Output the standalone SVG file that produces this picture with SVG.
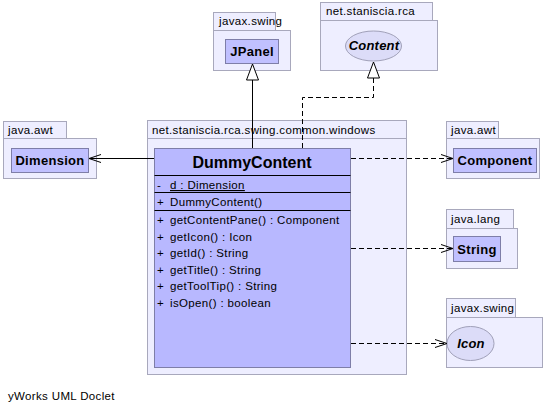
<svg xmlns="http://www.w3.org/2000/svg" width="547" height="413" viewBox="0 0 547 413">
<style>
.pkg{fill:#eeeeff;stroke:#a8a8bc;stroke-width:1}
.cls{fill:#c0c0ff;stroke:#7e7ea8;stroke-width:1}
.main{fill:#b8b8ff;stroke:#7e7ea8;stroke-width:1}
.ifc{fill:#dcdcf8;stroke:#a0a0b8;stroke-width:1}
.t{font-family:"Liberation Sans",Arial,sans-serif;font-size:11.5px;letter-spacing:0.35px;fill:#000}
.b{font-family:"Liberation Sans",Arial,sans-serif;font-size:13px;letter-spacing:0.3px;font-weight:bold;fill:#000}
.bi{font-family:"Liberation Sans",Arial,sans-serif;font-size:13px;letter-spacing:0.2px;font-weight:bold;font-style:italic;fill:#000}
.ln{stroke:#000;stroke-width:1;fill:none}
.dl{stroke:#000;stroke-width:1;fill:none;stroke-dasharray:5,3}
</style>
<defs>
<marker id="open" viewBox="0 0 12 10" refX="12" refY="5" markerWidth="12" markerHeight="10" markerUnits="userSpaceOnUse" orient="auto">
<path d="M0,1 L12,5 L0,9" fill="none" stroke="#000" stroke-width="1"/>
</marker>
<marker id="tri" viewBox="0 0 18 14" refX="17" refY="7" markerWidth="18" markerHeight="14" markerUnits="userSpaceOnUse" orient="auto">
<path d="M1,1 L17,7 L1,13 Z" fill="#fff" stroke="#000" stroke-width="1"/>
</marker>
</defs>

<g id="pkg-main">
<rect class="pkg" x="147.5" y="120.5" width="259" height="18"/>
<rect class="pkg" x="147.5" y="138.5" width="259" height="236"/>
<text class="t" x="152" y="134">net.staniscia.rca.swing.common.windows</text>
</g>

<g id="pkg-awt-left">
<rect class="pkg" x="3.5" y="121.5" width="63" height="17"/>
<rect class="pkg" x="3.5" y="138.5" width="93" height="40"/>
<text class="t" x="8" y="134">java.awt</text>
</g>
<g id="Dimension">
<rect class="cls" x="11.5" y="148.5" width="77" height="24"/>
<text class="b" x="50" y="165" text-anchor="middle">Dimension</text>
</g>

<g id="pkg-swing-top">
<rect class="pkg" x="213.5" y="12.5" width="62" height="18"/>
<rect class="pkg" x="213.5" y="30.5" width="77" height="40"/>
<text class="t" x="219" y="25">javax.swing</text>
</g>
<g id="JPanel">
<rect class="cls" x="225.5" y="39.5" width="53" height="24"/>
<text class="b" x="252" y="56" text-anchor="middle">JPanel</text>
</g>

<g id="pkg-rca">
<rect class="pkg" x="320.5" y="2.5" width="112" height="18"/>
<rect class="pkg" x="320.5" y="20.5" width="117" height="50"/>
<text class="t" x="326" y="15">net.staniscia.rca</text>
</g>
<g id="Content">
<ellipse class="ifc" cx="373.5" cy="46" rx="28" ry="15"/>
<text class="bi" x="374" y="50" text-anchor="middle">Content</text>
</g>

<g id="pkg-awt-right">
<rect class="pkg" x="446.5" y="121.5" width="52" height="17"/>
<rect class="pkg" x="446.5" y="138.5" width="93" height="40"/>
<text class="t" x="451" y="134">java.awt</text>
</g>
<g id="Component">
<rect class="cls" x="453.5" y="148.5" width="83" height="24"/>
<text class="b" x="495" y="165" text-anchor="middle">Component</text>
</g>

<g id="pkg-lang">
<rect class="pkg" x="446.5" y="209.5" width="67" height="19"/>
<rect class="pkg" x="446.5" y="228.5" width="71" height="40"/>
<text class="t" x="451" y="223">java.lang</text>
</g>
<g id="String">
<rect class="cls" x="453.5" y="236.5" width="47" height="25"/>
<text class="b" x="477" y="254" text-anchor="middle">String</text>
</g>

<g id="pkg-swing-bottom">
<rect class="pkg" x="446.5" y="298.5" width="69" height="19"/>
<rect class="pkg" x="446.5" y="317.5" width="96" height="50"/>
<text class="t" x="451" y="312">javax.swing</text>
</g>
<g id="Icon">
<ellipse class="ifc" cx="470.5" cy="343.5" rx="23.5" ry="17"/>
<text class="bi" x="471" y="348" text-anchor="middle">Icon</text>
</g>

<g id="DummyContent">
<rect class="main" x="154.5" y="148.5" width="196" height="219"/>
<text x="252" y="168" text-anchor="middle" style="font-family:'Liberation Sans',Arial,sans-serif;font-size:16px;font-weight:bold">DummyContent</text>
<line class="ln" x1="154.5" y1="175.5" x2="350.5" y2="175.5"/>
<text class="t" x="157" y="189">-</text>
<text class="t" x="170" y="189" text-decoration="underline">d : Dimension</text>
<line class="ln" x1="154.5" y1="192.5" x2="350.5" y2="192.5"/>
<text class="t" x="157" y="206">+</text>
<text class="t" x="170" y="206">DummyContent()</text>
<line class="ln" x1="154.5" y1="210.5" x2="350.5" y2="210.5"/>
<text class="t" x="157" y="224">+</text>
<text class="t" x="170" y="224">getContentPane() : Component</text>
<text class="t" x="157" y="241">+</text>
<text class="t" x="170" y="241">getIcon() : Icon</text>
<text class="t" x="157" y="257">+</text>
<text class="t" x="170" y="257">getId() : String</text>
<text class="t" x="157" y="274">+</text>
<text class="t" x="170" y="274">getTitle() : String</text>
<text class="t" x="157" y="290">+</text>
<text class="t" x="170" y="290">getToolTip() : String</text>
<text class="t" x="157" y="307">+</text>
<text class="t" x="170" y="307">isOpen() : boolean</text>
</g>

<g id="connectors">
<path class="ln" d="M252.5,148 L252.5,64" marker-end="url(#tri)"/>
<path class="dl" d="M302.5,148 L302.5,97.5 L373.5,97.5 L373.5,62" marker-end="url(#tri)"/>
<path class="ln" d="M154,158.5 L89,158.5" marker-end="url(#open)"/>
<path class="dl" d="M351,158.5 L453,158.5" marker-end="url(#open)"/>
<path class="dl" d="M351,248.5 L453,248.5" marker-end="url(#open)"/>
<path class="dl" d="M351,343.5 L447,343.5" marker-end="url(#open)"/>
</g>

<text class="t" x="8" y="400">yWorks UML Doclet</text>
</svg>
